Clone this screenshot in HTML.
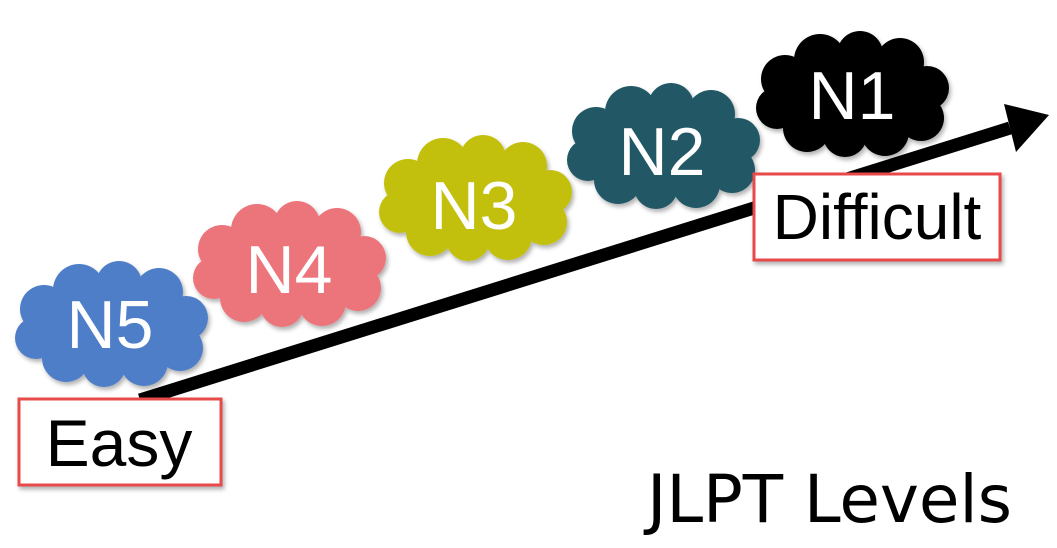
<!DOCTYPE html>
<html><head><style>
html,body{margin:0;padding:0;background:#fff;}
body{width:1057px;height:548px;overflow:hidden;position:relative;}
svg{position:absolute;left:0;top:0;}
</style></head><body>
<svg width="1057" height="548" viewBox="0 0 1057 548">
<defs>
<g id="cloud">
<ellipse cx="97" cy="65" rx="80" ry="45"/>
<circle cx="30" cy="47" r="24"/><circle cx="65" cy="28" r="26"/><circle cx="105" cy="22" r="23"/>
<circle cx="145" cy="30" r="24"/><circle cx="172" cy="56" r="22"/><circle cx="166" cy="86" r="23"/>
<circle cx="130" cy="100" r="24"/><circle cx="90" cy="103" r="22"/><circle cx="52" cy="96" r="24"/>
<circle cx="22" cy="76" r="21"/>
</g>
<filter id="sh" x="-10%" y="-10%" width="130%" height="130%"><feDropShadow dx="2" dy="3" stdDeviation="2" flood-color="#000" flood-opacity="0.3"/></filter>
</defs>
<line x1="140" y1="400" x2="1010" y2="128" stroke="#000" stroke-width="13"/>
<polygon points="1049,115 1004,104 1016,152" fill="#000"/>
<g font-family="Liberation Sans, Arial, sans-serif" font-size="68" fill="#fff" text-anchor="middle">
<use href="#cloud" transform="translate(14,262)" fill="#4f7ec9" filter="url(#sh)"/>
<text x="110" y="348">N5</text>
<use href="#cloud" transform="translate(192,202)" fill="#ec757b" filter="url(#sh)"/>
<text x="289" y="293">N4</text>
<use href="#cloud" transform="translate(378,136)" fill="#c3c011" filter="url(#sh)"/>
<text x="474" y="229">N3</text>
<use href="#cloud" transform="translate(566,84)" fill="#225966" filter="url(#sh)"/>
<text x="662" y="175">N2</text>
<use href="#cloud" transform="translate(755,32)" fill="#000" filter="url(#sh)"/>
<text x="852" y="119">N1</text>
</g>
<rect x="19" y="399" width="202" height="86" fill="#fff" stroke="#e84a4a" stroke-width="3" filter="url(#sh)"/>
<text x="119" y="466" font-family="Liberation Sans, Arial, sans-serif" font-size="66" text-anchor="middle">Easy</text>
<rect x="754" y="174" width="246" height="86" fill="#fff" stroke="#e84a4a" stroke-width="3" filter="url(#sh)"/>
<text x="877" y="239" font-family="Liberation Sans, Arial, sans-serif" font-size="64" text-anchor="middle">Difficult</text>
<text x="1012" y="522" font-family="DejaVu Sans, Verdana, sans-serif" font-size="66" text-anchor="end" textLength="365">JLPT Levels</text>
</svg>
</body></html>
